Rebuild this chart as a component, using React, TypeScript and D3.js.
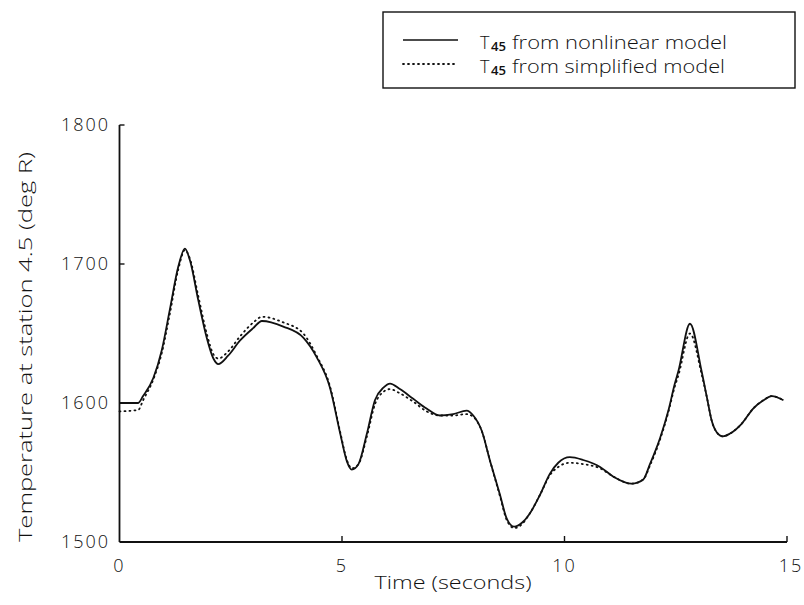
import React from "react";
import * as d3 from "d3";

const timeSeconds = [0, 0.42, 0.53, 0.76, 0.95, 1.13, 1.32, 1.47, 1.58, 1.77, 1.96, 2.11, 2.22, 2.44, 2.71, 3.01, 3.2, 3.68, 4.13, 4.43, 4.73, 4.96, 5.11, 5.22, 5.37, 5.56, 5.74, 5.93, 6.08, 6.3, 6.6, 6.9, 7.2, 7.5, 7.8, 7.95, 8.14, 8.33, 8.55, 8.7, 8.87, 9.05, 9.21, 9.45, 9.67, 9.86, 10.12, 10.42, 10.8, 11.1, 11.51, 11.77, 11.92, 12.15, 12.33, 12.48, 12.56, 12.82, 13.08, 13.2, 13.31, 13.42, 13.56, 13.72, 13.98, 14.24, 14.47, 14.66, 14.92];

const nonlinearModel = [1600, 1600, 1605, 1618, 1638, 1667, 1698, 1711, 1703, 1674, 1647, 1632, 1628, 1634, 1645, 1654, 1659, 1655, 1647, 1633, 1611, 1578, 1558, 1552, 1556, 1578, 1602, 1611, 1614, 1610, 1603, 1596, 1591, 1592, 1594.5, 1591, 1580, 1558, 1534, 1517, 1511, 1514, 1520, 1534, 1549, 1557, 1561, 1559, 1554, 1547, 1542, 1545, 1556, 1575, 1594, 1614, 1623, 1657, 1623, 1604, 1587, 1579, 1576, 1578, 1585, 1596, 1602, 1605, 1602];

const simplifiedModel = [1594, 1595, 1602, 1617, 1636, 1664, 1696, 1710, 1704, 1677, 1650, 1635, 1632, 1637, 1648, 1658, 1662, 1658, 1650, 1634, 1612, 1579, 1559, 1553, 1556, 1576, 1599, 1608, 1610, 1607, 1601, 1594, 1591, 1591, 1592, 1590, 1580, 1558, 1533, 1516, 1510, 1513, 1520, 1534, 1548, 1554, 1557, 1556, 1553, 1547, 1542, 1545, 1555, 1574, 1593, 1612, 1620, 1650, 1621, 1604, 1587, 1579, 1576, 1578, 1585, 1596, 1602, 1605, 1602];

const xTicks = [0, 5, 10, 15];
const yTicks = [1500, 1600, 1700, 1800];
const xTitle = "Time (seconds)";
const yTitle = "Temperature at station 4.5 (deg R)";
const legendLabels = ["from nonlinear model", "from simplified model"];

const FONT = "'Open Sans', 'DejaVu Sans', sans-serif";

export default function App() {
  const x = d3.scaleLinear().domain([0, 15]).range([119.5, 787]);
  const y = d3.scaleLinear().domain([1500, 1800]).range([542, 125]);

  const line = d3
    .line<number>()
    .x((_, i) => x(timeSeconds[i]))
    .y((d) => y(d))
    .curve(d3.curveMonotoneX);

  const ink = "#111";

  return (
    <svg
      width={804}
      height={605}
      style={{ position: "absolute", left: 0, top: 0, background: "#fff" }}
      fontFamily={FONT}
    >
      <rect width={804} height={605} fill="#fff" />
      {/* Legend */}
      <rect x={383} y={12} width={412} height={76} fill="none" stroke={ink} strokeWidth={1.4} />
      <line x1={403} x2={458} y1={40} y2={40} stroke={ink} strokeWidth={1.6} />
      <line x1={403} x2={456} y1={64} y2={64} stroke={ink} strokeWidth={1.8} strokeDasharray="1 4" strokeLinecap="round" />
      {legendLabels.map((lab, i) => (
        <g key={lab}>
          <text x={480} y={49 + i * 24} fontSize={18} fontWeight={300} fill={ink}>T</text>
          <text x={491} y={51 + i * 24} fontSize={13} fontWeight={600} fill={ink} textLength={15} lengthAdjust="spacingAndGlyphs">45</text>
          <text x={512} y={49 + i * 24} fontSize={18} fontWeight={300} fill={ink} textLength={i === 0 ? 215 : 213} lengthAdjust="spacingAndGlyphs">
            {lab}
          </text>
        </g>
      ))}

      {/* Axes */}
      <line x1={x(0)} x2={x(0)} y1={y(1800)} y2={y(1500)} stroke={ink} strokeWidth={1.8} />
      <line x1={x(0)} x2={x(15)} y1={y(1500)} y2={y(1500)} stroke={ink} strokeWidth={1.8} />
      {yTicks.filter((t) => t > 1500).map((t) => (
        <line key={t} x1={x(0)} x2={x(0) + 5} y1={y(t)} y2={y(t)} stroke={ink} strokeWidth={1.4} />
      ))}
      {xTicks.filter((t) => t > 0).map((t) => (
        <line key={t} x1={x(t)} x2={x(t)} y1={y(1500)} y2={y(1500) - 6} stroke={ink} strokeWidth={1.4} />
      ))}
      {yTicks.map((t) => (
        <text key={t} x={110} y={y(t)} dy="0.35em" textAnchor="end" fontSize={18} fontWeight={300} letterSpacing={2} fill={ink}>
          {t}
        </text>
      ))}
      {xTicks.map((t) => (
        <text key={t} x={x(t) + (t === 15 ? 4 : 0)} y={572} textAnchor="middle" fontSize={18} fontWeight={300} letterSpacing={2} fill={ink}>
          {t}
        </text>
      ))}
      <text x={453} y={589} textAnchor="middle" fontSize={18} fontWeight={300} fill={ink} textLength={157} lengthAdjust="spacingAndGlyphs">
        {xTitle}
      </text>
      <text
        transform={`translate(32, 347) rotate(-90)`}
        textAnchor="middle"
        fontSize={18}
        fontWeight={300}
        fill={ink}
        textLength={390}
        lengthAdjust="spacingAndGlyphs"
      >
        {yTitle}
      </text>

      {/* Series */}
      <path d={line(simplifiedModel) || ""} fill="none" stroke={ink} strokeWidth={1.8} strokeDasharray="1 4" strokeLinecap="round" />
      <path d={line(nonlinearModel) || ""} fill="none" stroke={ink} strokeWidth={1.8} />
    </svg>
  );
}
